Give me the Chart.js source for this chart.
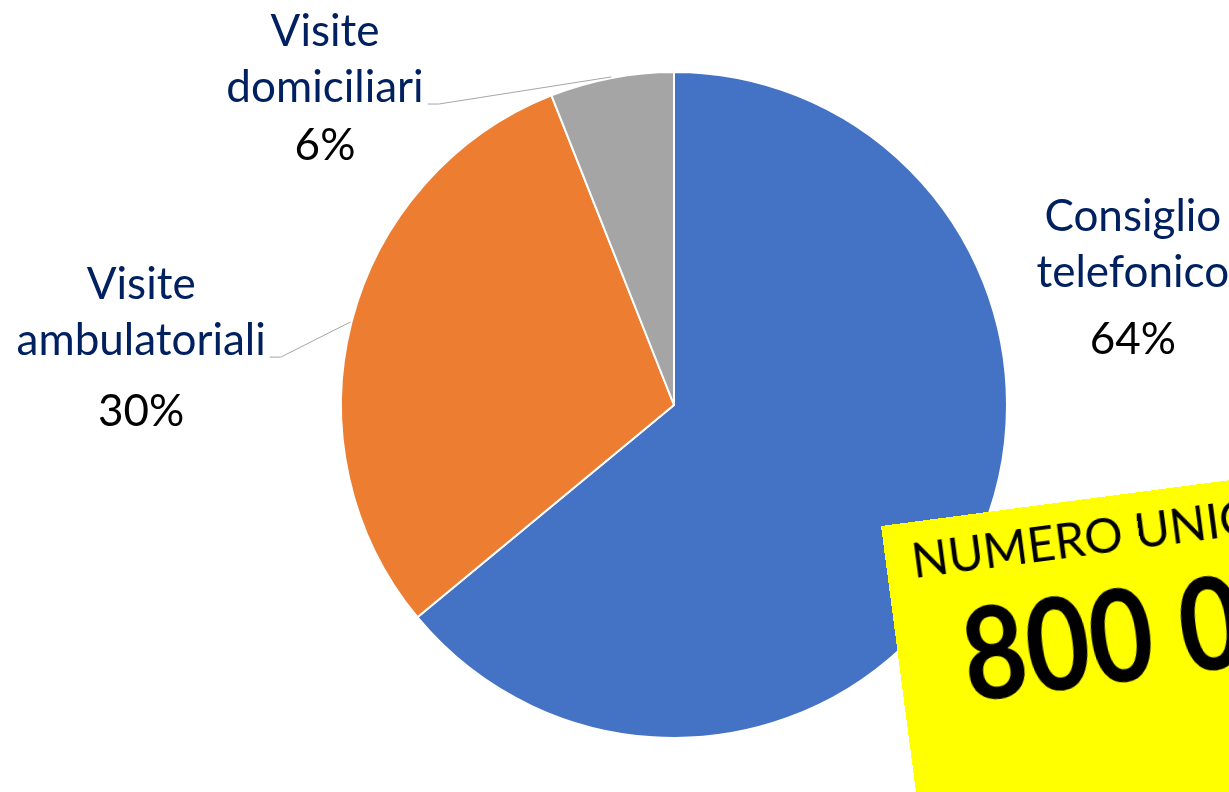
<!DOCTYPE html>
<html>
<head>
<meta charset="utf-8">
<script src="https://cdn.jsdelivr.net/npm/chart.js@4.4.0/dist/chart.umd.min.js"></script>
<style>
html, body { margin: 0; padding: 0; background: #fff; overflow: hidden; }
#wrap { position: relative; width: 1229px; height: 792px; overflow: hidden; }
#box {
  position: absolute; left: 881px; top: 526px; width: 560px; height: 340px;
  background: #ffff00; transform: rotate(-7.5deg); transform-origin: 0 0;
  font-family: Lato, sans-serif; color: #000;
}
#box .t1 { position: absolute; left: 26px; top: 14px; font-size: 48px; line-height: 1; white-space: nowrap; }
#box .t2 {
  position: absolute; left: 64px; top: 72px; font-size: 110px; font-weight: bold; line-height: 1;
  white-space: nowrap; transform: scaleY(1.16); transform-origin: 0 0;
}
</style>
</head>
<body>
<div id="wrap">
  <canvas id="myChart" width="1229" height="792"></canvas>
  <div id="box"><div class="t1">NUMERO UNICO</div><div class="t2">800 0</div></div>
</div>
<script>
// categorie e valori (%)
var labels = ['Consiglio telefonico', 'Visite ambulatoriali', 'Visite domiciliari'];
var labelLines = [['Consiglio', 'telefonico'], ['Visite', 'ambulatoriali'], ['Visite', 'domiciliari']];
var values = [64, 30, 6];
var colors = ['#4472C4', '#ED7D31', '#A5A5A5'];

// etichette esterne stile Excel
var pieLabels = {
  id: 'pieLabels',
  afterDatasetsDraw: function(chart, args, opts) {
    var ctx = chart.ctx;
    var arcs = chart.getDatasetMeta(0).data;
    var total = values.reduce(function(a, b) { return a + b; }, 0);
    ctx.save();
    arcs.forEach(function(arc, i) {
      var r = arc.outerRadius;
      var cx = arc.x + opts.pos[i][0] * r;
      var cy = arc.y + opts.pos[i][1] * r;
      var lines = labelLines[i];
      ctx.font = '44px Lato';
      ctx.textAlign = 'center';
      ctx.textBaseline = 'middle';
      ctx.fillStyle = '#002060';
      lines.forEach(function(l, k) {
        ctx.fillText(l, cx, cy + k * 56);
      });
      ctx.fillStyle = '#000';
      ctx.fillText(Math.round(values[i] / total * 100) + '%', cx, cy + (lines.length - 1) * 56 + opts.pctGap[i]);

      if (opts.leader[i]) {
        var w = ctx.measureText(lines[lines.length - 1]).width;
        var ly = cy + (lines.length - 1) * 56 + 16;
        var x0 = cx + w / 2 + 4;
        var mid = (arc.startAngle + arc.endAngle) / 2;
        ctx.strokeStyle = '#A6A6A6';
        ctx.lineWidth = 1;
        ctx.beginPath();
        ctx.moveTo(x0, ly);
        ctx.lineTo(x0 + 11, ly);
        ctx.lineTo(arc.x + Math.cos(mid) * (r + 1), arc.y + Math.sin(mid) * (r + 1));
        ctx.stroke();
      }
    });
    ctx.restore();
  }
};

var ctx = document.getElementById('myChart').getContext('2d');
var chart = new Chart(ctx, {
  type: 'pie',
  data: {
    labels: labels,
    datasets: [{
      data: values,
      backgroundColor: colors,
      borderColor: '#ffffff',
      borderWidth: 2,
      hoverOffset: 0
    }]
  },
  options: {
    responsive: false,
    animation: false,
    layout: { padding: { left: 340, right: 221, top: 71, bottom: 53 } },
    plugins: {
      legend: { display: false },
      tooltip: { enabled: false },
      pieLabels: {
        pos: [[1.378, -0.565], [-1.60, -0.36], [-1.048, -1.12]],
        pctGap: [67, 71, 58],
        leader: [false, true, true]
      }
    }
  },
  plugins: [pieLabels]
});
</script>
</body>
</html>
